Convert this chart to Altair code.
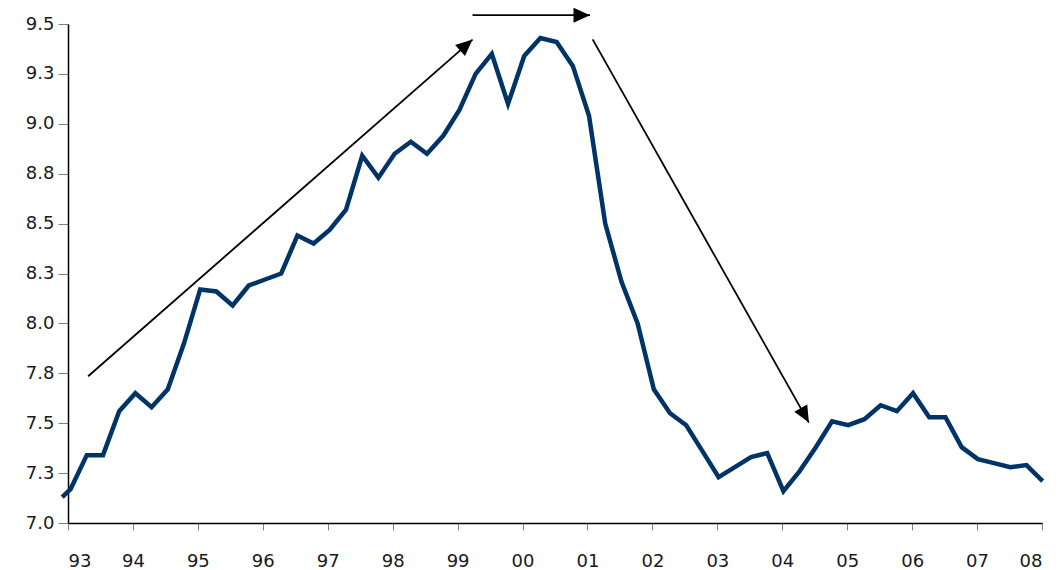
import altair as alt
import pandas as pd

# quarterly series (first point is the partial start just before '93)
start_x = [1992.91]
start_val = [7.13]
values = [
    7.17, 7.34, 7.34, 7.56, 7.65, 7.58, 7.67, 7.90,   # 93-94
    8.17, 8.16, 8.09, 8.19, 8.22, 8.25, 8.44, 8.40,   # 95-96
    8.47, 8.57, 8.84, 8.73, 8.85, 8.91, 8.85, 8.94,   # 97-98
    9.07, 9.25, 9.35, 9.10, 9.34, 9.43, 9.41, 9.29,   # 99-00
    9.04, 8.50, 8.21, 8.00, 7.67, 7.55, 7.49, 7.36,   # 01-02
    7.23, 7.28, 7.33, 7.35, 7.16, 7.26, 7.38, 7.51,   # 03-04
    7.49, 7.52, 7.59, 7.56, 7.65, 7.53, 7.53, 7.38,   # 05-06
    7.32, 7.30, 7.28, 7.29, 7.21,                     # 07-08
]
quarters = [1993.04 + 0.2495 * k for k in range(len(values))]

year_ticks = list(range(1993, 2009))
y_ticks = [7.0, 7.25, 7.5, 7.75, 8.0, 8.25, 8.5, 8.75, 9.0, 9.25, 9.5]

# annotation arrows: (x1, y1, x2, y2, head angle)
arrow_x1 = [1993.31, 1999.23, 2001.08]
arrow_y1 = [7.735, 9.544, 9.423]
arrow_x2 = [1999.23, 2001.04, 2004.41]
arrow_y2 = [9.422, 9.544, 7.503]
arrow_angle = [318.8, 0, 60.6]

line_df = pd.DataFrame({"x": start_x + quarters, "v": start_val + values})
arrow_df = pd.DataFrame({"x1": arrow_x1, "y1": arrow_y1, "x2": arrow_x2,
                         "y2": arrow_y2, "ang": arrow_angle})

xs = alt.Scale(domain=[1993, 2008], nice=False, zero=False)
ys = alt.Scale(domain=[7.0, 9.5], nice=False, zero=False)

x_axis = alt.Axis(values=year_ticks, labelExpr="substring(toString(datum.value), 2, 4)",
                  title=None, grid=False, domainColor="#000000", tickColor="#808080",
                  tickSize=7, labelPadding=22, labelFontSize=18, labelColor="#1a1a1a",
                  labelFont="DejaVu Sans", labelFontWeight="normal", domainWidth=1.5)
y_axis = alt.Axis(values=y_ticks, format=".1f", title=None, grid=False,
                  domainColor="#000000", tickColor="#808080", tickSize=10,
                  labelPadding=4, labelFontSize=18, labelColor="#1a1a1a",
                  labelFont="DejaVu Sans", domainWidth=1.5)

line = alt.Chart(line_df).mark_line(color="#003366", strokeWidth=4.5, clip=False).encode(
    x=alt.X("x:Q", scale=xs, axis=x_axis),
    y=alt.Y("v:Q", scale=ys, axis=y_axis),
)

rules = alt.Chart(arrow_df).mark_rule(color="#000000", strokeWidth=1.8, clip=False).encode(
    x=alt.X("x1:Q", scale=xs), y=alt.Y("y1:Q", scale=ys),
    x2="x2:Q", y2="y2:Q",
)

heads = alt.Chart(arrow_df).mark_point(
    shape="M0,0 L-1,-0.45 L-1,0.45 Z", filled=True, color="#000000",
    opacity=1, size=1100, clip=False, strokeWidth=0,
).encode(
    x=alt.X("x2:Q", scale=xs), y=alt.Y("y2:Q", scale=ys),
    angle=alt.Angle("ang:Q", scale=None),
)

chart = alt.layer(line, rules, heads).properties(
    width=974, height=499,
    autosize=alt.AutoSizeParams(type="none"),
    padding={"left": 68, "top": 24, "right": 17, "bottom": 47},
).configure_view(stroke=None)

chart.save("out.html", embed_options={"renderer": "svg", "actions": False})
